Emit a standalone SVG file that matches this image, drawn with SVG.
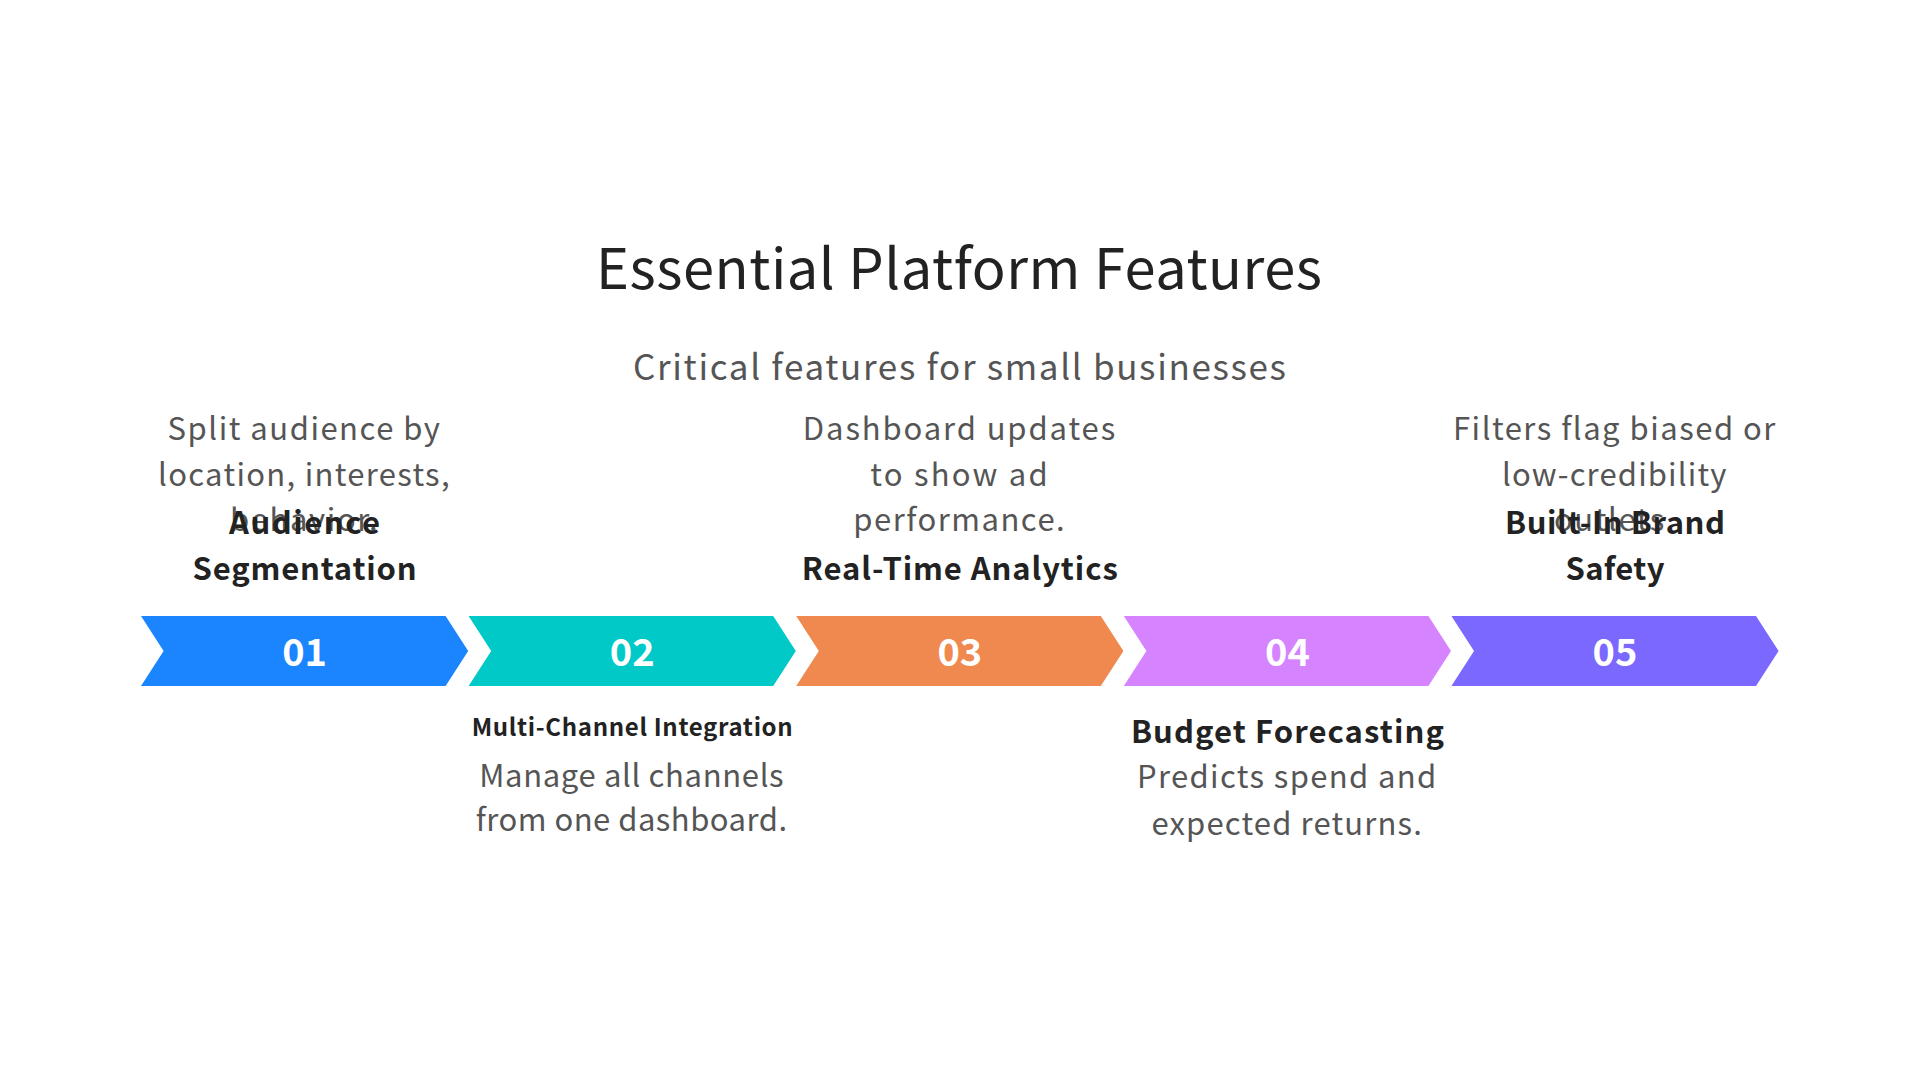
<svg xmlns="http://www.w3.org/2000/svg" width="1920" height="1080" viewBox="0 0 1920 1080">
<style>
text{font-family:"Noto Sans CJK SC","Noto Sans",sans-serif;text-anchor:middle}
.title{font-size:56px;fill:#222222}
.sub{font-size:35px;fill:#555555}
.desc{font-size:31px;fill:#555555;letter-spacing:1.6px}
.head{font-size:31px;font-weight:bold;fill:#222222}
.headsm{font-size:24px;font-weight:bold;fill:#222222}
.num{font-size:38px;font-weight:bold;fill:#ffffff}
</style>
<rect width="1920" height="1080" fill="#ffffff"/>
<text class="title" x="959" y="289" textLength="726">Essential Platform Features</text>
<text class="sub" x="959.5" y="380" textLength="653">Critical features for small businesses</text>
<g id="step1">
<polygon points="141,616 445.6,616 468.2,651 445.6,686 141,686 163.6,651" fill="#1a85ff"/>
<text class="num" x="304.6" y="665.5">01</text>
<text class="desc" x="304.6" y="440" textLength="274">Split audience by</text>
<text class="desc" x="304.6" y="485.5" textLength="293">location, interests,</text>
<text class="desc" x="304.6" y="531">behavior.</text>
<text class="head" x="304.6" y="534" textLength="151">Audience</text>
<text class="head" x="304.6" y="580" textLength="224">Segmentation</text>
</g>
<g id="step2">
<polygon points="468.6,616 773.2,616 795.8,651 773.2,686 468.6,686 491.2,651" fill="#00c9c8"/>
<text class="num" x="632.2" y="665.5">02</text>
<text class="headsm" x="632.2" y="736" textLength="321">Multi-Channel Integration</text>
<text class="desc" x="632.2" y="787" textLength="306">Manage all channels</text>
<text class="desc" x="632.2" y="831" textLength="313">from one dashboard.</text>
</g>
<g id="step3">
<polygon points="796.2,616 1100.8,616 1123.4,651 1100.8,686 796.2,686 818.8,651" fill="#f0894f"/>
<text class="num" x="959.8" y="665.5">03</text>
<text class="desc" x="959.8" y="440" textLength="314">Dashboard updates</text>
<text class="desc" x="959.8" y="485.5" textLength="179">to show ad</text>
<text class="desc" x="959.8" y="531" textLength="213">performance.</text>
<text class="head" x="959.8" y="580" textLength="316">Real-Time Analytics</text>
</g>
<g id="step4">
<polygon points="1123.8,616 1428.4,616 1451,651 1428.4,686 1123.8,686 1146.4,651" fill="#d683ff"/>
<text class="num" x="1287.4" y="665.5">04</text>
<text class="head" x="1287.4" y="743" textLength="313">Budget Forecasting</text>
<text class="desc" x="1287.4" y="788" textLength="301">Predicts spend and</text>
<text class="desc" x="1287.4" y="835" textLength="272">expected returns.</text>
</g>
<g id="step5">
<polygon points="1451.4,616 1756,616 1778.6,651 1756,686 1451.4,686 1474,651" fill="#7a68ff"/>
<text class="num" x="1615" y="665.5">05</text>
<text class="desc" x="1615" y="440" textLength="324">Filters flag biased or</text>
<text class="desc" x="1615" y="485.5" textLength="226">low-credibility</text>
<text class="desc" x="1615" y="531">outlets.</text>
<text class="head" x="1615" y="534" textLength="220">Built-In Brand</text>
<text class="head" x="1615" y="580" textLength="99">Safety</text>
</g>
<g id="connectors"></g>
</svg>
